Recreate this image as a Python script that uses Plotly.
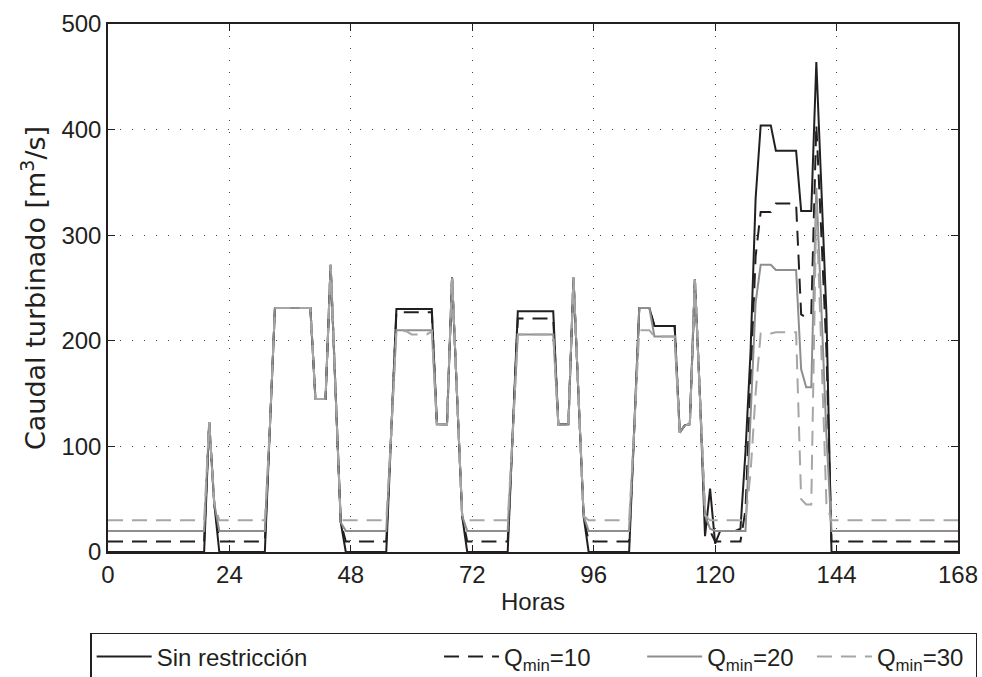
import plotly.graph_objects as go

hours = list(range(169))

x_ticks = [0, 24, 48, 72, 96, 120, 144, 168]
y_ticks = [0, 100, 200, 300, 400, 500]

sin_restriccion = [
    0, 0, 0, 0, 0, 0, 0, 0, 0, 0, 0, 0, 0, 0, 0, 0, 0, 0, 0, 0, 123, 46, 0, 0,
    0, 0, 0, 0, 0, 0, 0, 0, 118, 231, 231, 231, 231, 231, 231, 231, 231, 145, 145, 145, 272, 150, 28, 0,
    0, 0, 0, 0, 0, 0, 0, 0, 115, 230, 230, 230, 230, 230, 230, 230, 230, 121, 121, 121, 260, 147, 34, 0,
    0, 0, 0, 0, 0, 0, 0, 0, 114, 228, 228, 228, 228, 228, 228, 228, 228, 121, 121, 121, 260, 147, 34, 0,
    0, 0, 0, 0, 0, 0, 0, 0, 116, 231, 231, 231, 214, 214, 214, 214, 214, 113, 120, 121, 258, 147, 15, 60,
    8, 20, 20, 20, 20, 22, 95, 190, 335, 404, 404, 404, 380, 380, 380, 380, 380, 323, 323, 323, 464, 345, 225, 0,
    0, 0, 0, 0, 0, 0, 0, 0, 0, 0, 0, 0, 0, 0, 0, 0, 0, 0, 0, 0, 0, 0, 0, 0, 0,
]

q_min_10 = [
    10, 10, 10, 10, 10, 10, 10, 10, 10, 10, 10, 10, 10, 10, 10, 10, 10, 10, 10, 10, 123, 46, 10, 10,
    10, 10, 10, 10, 10, 10, 10, 10, 118, 231, 231, 231, 231, 231, 231, 231, 231, 145, 145, 145, 272, 150, 28, 10,
    10, 10, 10, 10, 10, 10, 10, 10, 115, 227, 227, 227, 227, 227, 227, 227, 227, 121, 121, 121, 260, 147, 34, 10,
    10, 10, 10, 10, 10, 10, 10, 10, 114, 221, 221, 221, 221, 221, 221, 221, 221, 121, 121, 121, 260, 147, 34, 10,
    10, 10, 10, 10, 10, 10, 10, 10, 116, 231, 231, 231, 214, 214, 214, 214, 214, 113, 120, 121, 258, 147, 35, 20,
    10, 10, 10, 10, 10, 10, 40, 160, 280, 322, 322, 322, 330, 330, 330, 330, 330, 225, 222, 225, 405, 300, 190, 10,
    10, 10, 10, 10, 10, 10, 10, 10, 10, 10, 10, 10, 10, 10, 10, 10, 10, 10, 10, 10, 10, 10, 10, 10, 10,
]

q_min_20 = [
    20, 20, 20, 20, 20, 20, 20, 20, 20, 20, 20, 20, 20, 20, 20, 20, 20, 20, 20, 20, 123, 46, 20, 20,
    20, 20, 20, 20, 20, 20, 20, 20, 118, 231, 231, 231, 231, 231, 231, 231, 231, 145, 145, 145, 272, 150, 28, 20,
    20, 20, 20, 20, 20, 20, 20, 20, 115, 210, 210, 210, 210, 210, 210, 210, 210, 121, 121, 121, 260, 147, 34, 20,
    20, 20, 20, 20, 20, 20, 20, 20, 113, 206, 206, 206, 206, 206, 206, 206, 206, 121, 121, 121, 260, 147, 34, 20,
    20, 20, 20, 20, 20, 20, 20, 20, 116, 231, 231, 231, 204, 204, 204, 204, 204, 113, 120, 121, 258, 147, 35, 22,
    20, 20, 20, 20, 20, 20, 20, 128, 236, 272, 272, 272, 267, 267, 267, 267, 267, 173, 156, 156, 345, 230, 110, 20,
    20, 20, 20, 20, 20, 20, 20, 20, 20, 20, 20, 20, 20, 20, 20, 20, 20, 20, 20, 20, 20, 20, 20, 20, 20,
]

q_min_30 = [
    30, 30, 30, 30, 30, 30, 30, 30, 30, 30, 30, 30, 30, 30, 30, 30, 30, 30, 30, 30, 123, 46, 30, 30,
    30, 30, 30, 30, 30, 30, 30, 30, 118, 231, 231, 231, 231, 231, 231, 231, 231, 145, 145, 145, 272, 150, 30, 30,
    30, 30, 30, 30, 30, 30, 30, 30, 115, 209, 209, 209, 206, 206, 206, 206, 209, 121, 121, 121, 260, 147, 34, 30,
    30, 30, 30, 30, 30, 30, 30, 30, 113, 206, 206, 206, 206, 206, 206, 206, 206, 121, 121, 121, 260, 147, 34, 30,
    30, 30, 30, 30, 30, 30, 30, 30, 116, 210, 210, 210, 204, 204, 204, 204, 204, 113, 120, 121, 258, 147, 35, 30,
    30, 30, 30, 30, 30, 30, 30, 75, 150, 207, 207, 207, 208, 208, 208, 208, 208, 50, 45, 45, 330, 190, 45, 30,
    30, 30, 30, 30, 30, 30, 30, 30, 30, 30, 30, 30, 30, 30, 30, 30, 30, 30, 30, 30, 30, 30, 30, 30, 30,
]

NB = "\u00a0"
series = [
    ("Sin restricción" + NB * 19, sin_restriccion, "#231f20", "solid"),
    ("Q<sub>min</sub>=10" + NB * 7, q_min_10, "#231f20", "15px,9px"),
    ("Q<sub>min</sub>=20" + NB * 2, q_min_20, "#8e8e8e", "solid"),
    ("Q<sub>min</sub>=30" + NB * 1, q_min_30, "#a6a6a6", "15px,9px"),
]

fig = go.Figure()
for name, vals, color, dash in series:
    fig.add_trace(go.Scatter(
        x=hours, y=vals, mode="lines", name=name,
        line=dict(color=color, width=2, dash=dash),
    ))

axis_common = dict(
    showline=True, linecolor="#231f20", linewidth=1.5, mirror="ticks",
    ticks="inside", ticklen=7, tickcolor="#231f20", tickwidth=1,
    showgrid=True, gridcolor="#444444", gridwidth=1, griddash="1px,11px",
    zeroline=False, tickfont=dict(size=24, color="#231f20"),
)

fig.update_xaxes(range=[0, 168], tickvals=x_ticks,
                 title=dict(text="Horas", font=dict(size=24, color="#231f20"), standoff=7),
                 **axis_common)
fig.update_yaxes(range=[0, 500], tickvals=y_ticks,
                 title=dict(text="Caudal turbinado [m<sup>3</sup>/s]" + NB * 3,
                            font=dict(size=27, color="#231f20", family="DejaVu Sans, sans-serif"),
                            standoff=8),
                 **axis_common)

fig.update_layout(
    width=982, height=677,
    margin=dict(l=108, r=24, t=24, b=125, autoexpand=False),
    plot_bgcolor="white", paper_bgcolor="white",
    font=dict(family="Liberation Sans, Arial, sans-serif", size=24, color="#231f20"),
    showlegend=True,
    legend=dict(
        orientation="h", x=-0.021, xanchor="left", y=-0.153, yanchor="top",
        bordercolor="#231f20", borderwidth=1.5, bgcolor="white",
        font=dict(size=24, color="#231f20"), itemwidth=55,
        tracegroupgap=0,
    ),
)

fig.write_html("out.html")
